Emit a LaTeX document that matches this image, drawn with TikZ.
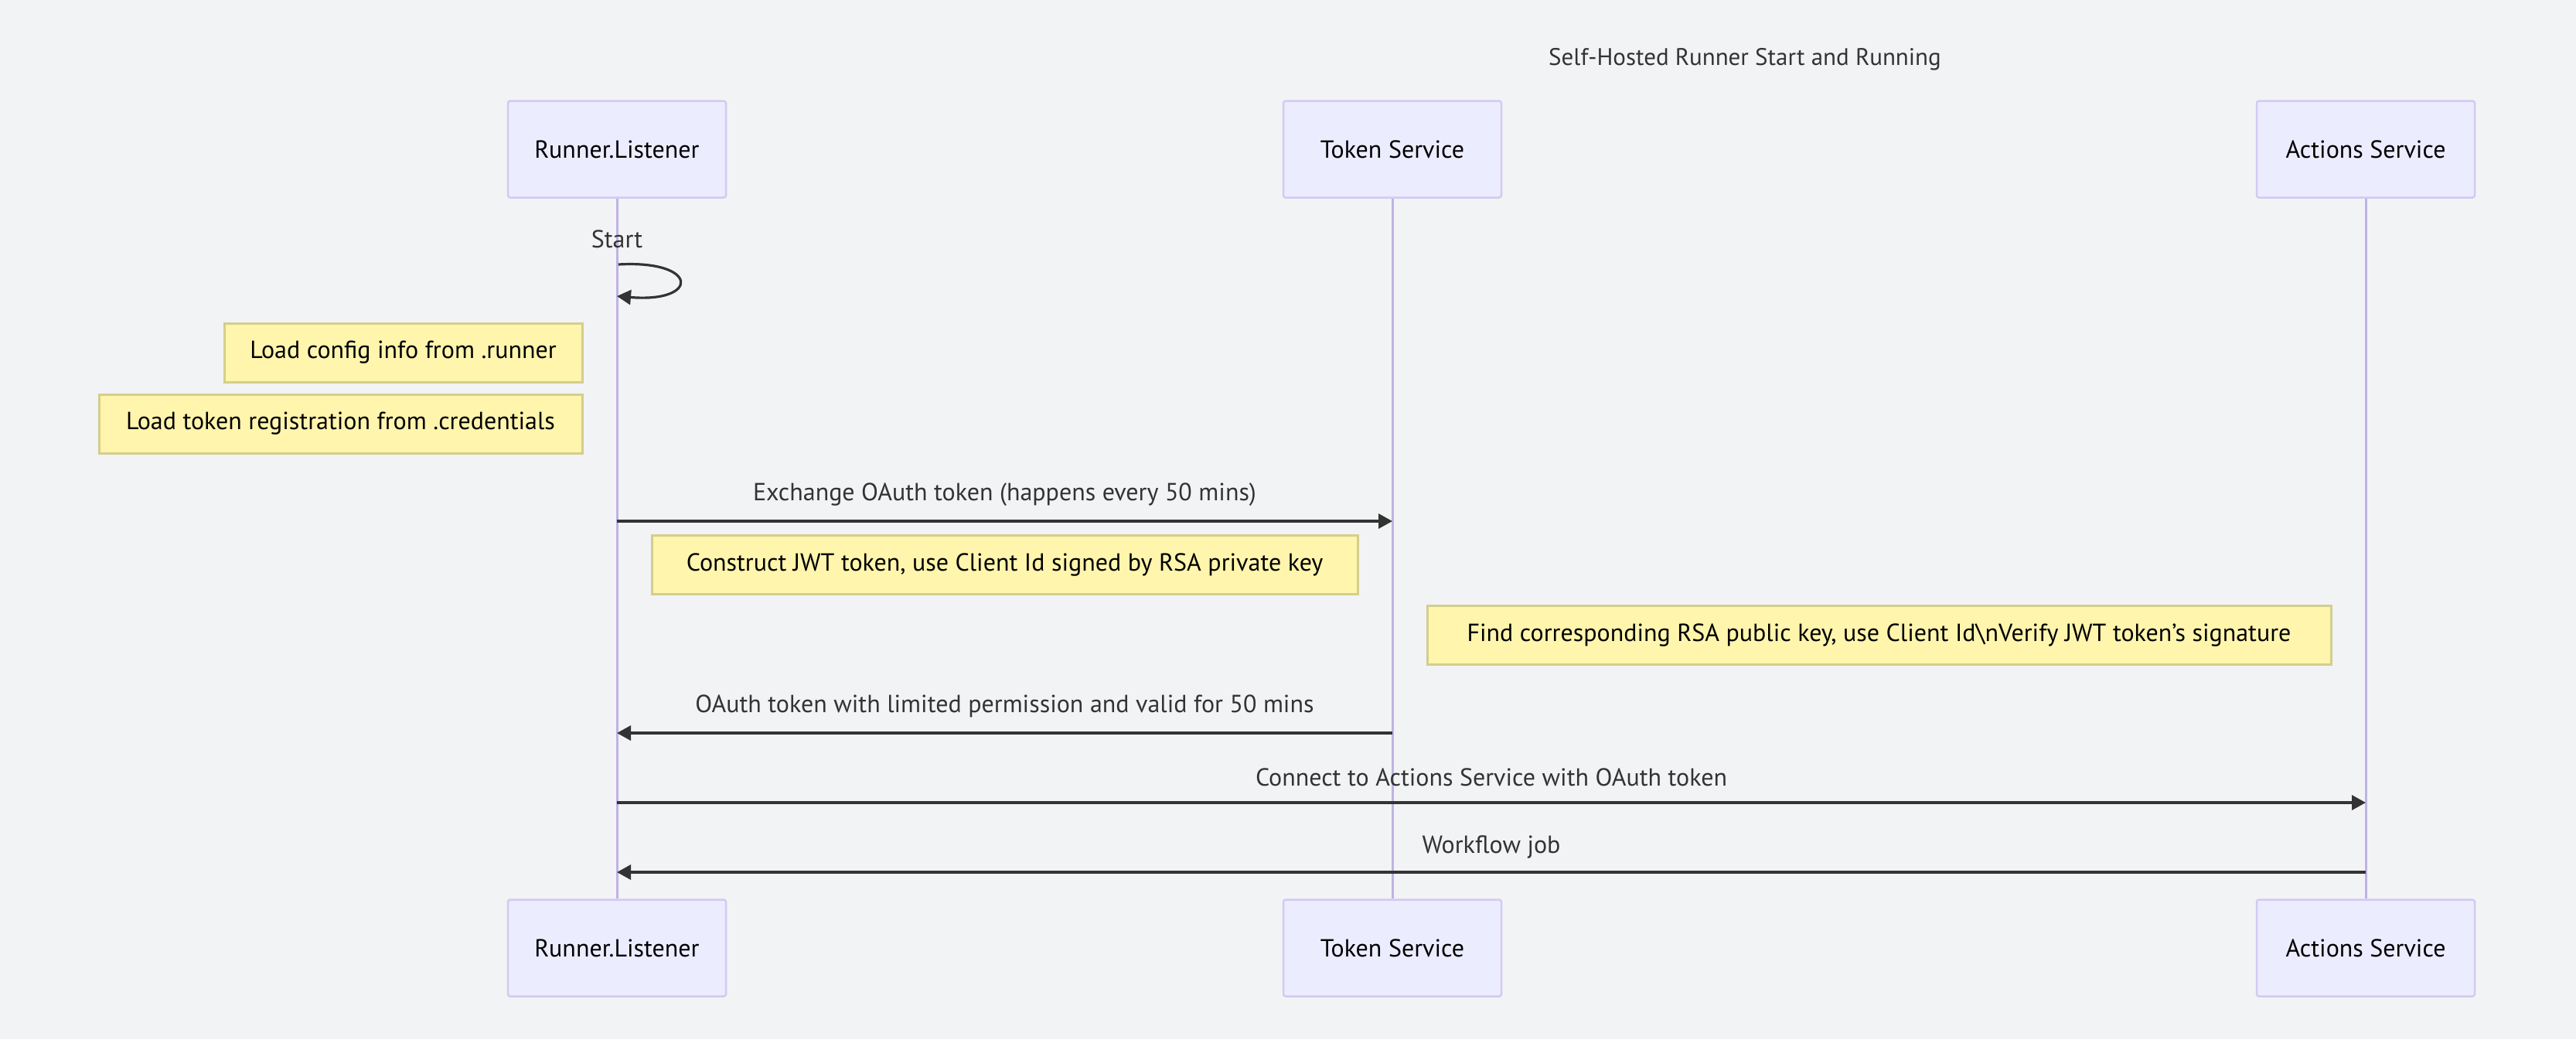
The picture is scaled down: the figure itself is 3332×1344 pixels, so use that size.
\documentclass[tikz,border=0pt]{standalone}
\usepackage{fontspec}
\setmainfont{PT Sans}
\usetikzlibrary{arrows.meta}
\definecolor{bgc}{HTML}{F2F3F5}
\definecolor{actfill}{HTML}{ECECFF}
\definecolor{actline}{HTML}{D2CAF0}
\definecolor{lifec}{HTML}{BFB3E3}
\definecolor{notefill}{HTML}{FFF5AD}
\definecolor{noteline}{HTML}{D3CE8C}
\definecolor{msgc}{HTML}{333333}
\tikzset{
  txt/.style={font=\fontsize{32}{38}\selectfont},
  actorbox/.style={txt, draw=actline, line width=2.5pt, fill=actfill, rounded corners=3pt,
    minimum width=282pt, minimum height=125pt, inner sep=0pt, text=black},
  notebox/.style={txt, draw=noteline, line width=3pt, fill=notefill, minimum height=76pt, inner sep=0pt,
    text=black},
  lifeline/.style={draw=lifec, line width=3pt},
  msg/.style={draw=msgc, line width=3.2pt, -{Triangle[length=18pt,width=19pt]}},
  msglabel/.style={txt, inner sep=0pt, text=msgc},
}
\begin{document}
\begin{tikzpicture}[x=1pt,y=-1pt]
\fill[bgc] (0,0) rectangle (3332,1344);
\useasboundingbox (0,0) rectangle (3332,1344);

\node[msglabel, font=\fontsize{31}{36}\selectfont] (title) at (2257,77) {Self-Hosted Runner Start and Running};

% actors top
\node[actorbox] (rT) at (798,193) {Runner.Listener};
\node[actorbox] (tT) at (1801,193) {Token Service};
\node[actorbox] (aT) at (3060,193) {Actions Service};
% actors bottom
\node[actorbox] (rB) at (798,1226) {Runner.Listener};
\node[actorbox] (tB) at (1801,1226) {Token Service};
\node[actorbox] (aB) at (3060,1226) {Actions Service};

% lifelines
\draw[lifeline] (rT.south) -- (rB.north);
\draw[lifeline] (tT.south) -- (tB.north);
\draw[lifeline] (aT.south) -- (aB.north);

% self message
\node[msglabel] (startl) at (798,309) {Start};
\coordinate (s1) at (800,342);
\coordinate (s2) at (798,383);
\draw[msg] (s1) .. controls (905,336) and (905,392) .. (s2);

% notes
\node[notebox, minimum width=463pt] (n1) at (521.5,456) {Load config info from .runner};
\node[notebox, minimum width=625pt] (n2) at (440.5,548) {Load token registration from .credentials};

% exchange
\draw[msg] (rT |- 0,674) -- (tT |- 0,674);
\node[msglabel] (l1) at (1299.5,640) {Exchange OAuth token (happens every 50 mins)};

\node[notebox, minimum width=913pt] (n3) at (1299.5,730) {Construct JWT token, use Client Id signed by RSA private key};
\node[notebox, minimum width=1169pt] (n4) at (2430.5,821.5) {Find corresponding RSA public key, use Client Id\textbackslash nVerify JWT token's signature};

\draw[msg] (tT |- 0,948) -- (rT |- 0,948);
\node[msglabel] (l2) at (1299.5,913) {OAuth token with limited permission and valid for 50 mins};

\draw[msg] (rT |- 0,1038) -- (aT |- 0,1038);
\node[msglabel] (l3) at (1929,1005) {Connect to Actions Service with OAuth token};

\draw[msg] (aT |- 0,1128) -- (rT |- 0,1128);
\node[msglabel] (l4) at (1929,1095) {Workflow job};
\end{tikzpicture}
\end{document}
